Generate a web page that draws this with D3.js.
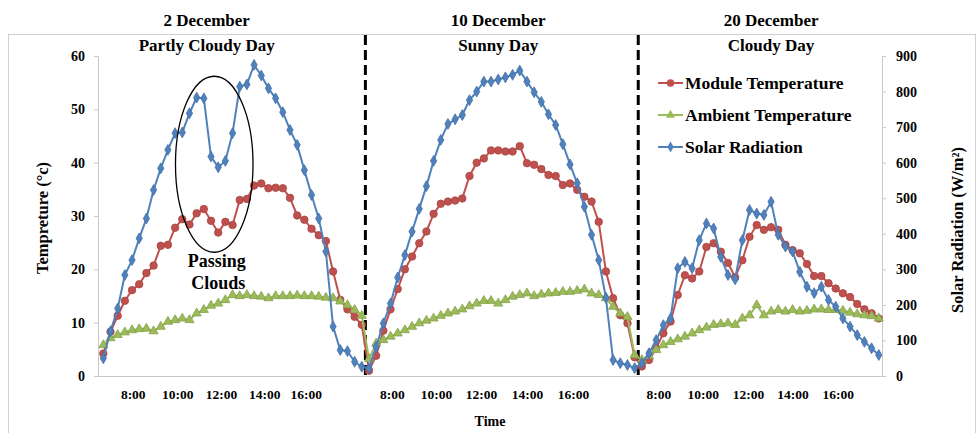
<!DOCTYPE html>
<html>
<head>
<meta charset="utf-8">
<script src="https://cdn.jsdelivr.net/npm/d3@7"></script>
<style>
  body { margin: 0; background: #fff; }
  text { font-family: "Liberation Serif", "Times New Roman", serif; font-weight: bold; fill: #000; }
</style>
</head>
<body>
<script>
/*** Data ***/
const dayNames = ['2 December', '10 December', '20 December']
const dayTypes = ['Partly Cloudy Day', 'Sunny Day', 'Cloudy Day']
const timeLabels = ['8:00', '10:00', '12:00', '14:00', '16:00']
// position of the time labels, counted in samples from the start of each day
const labelPos = [
  [4.1, 10.3, 16.4, 22.4, 28.2],
  [3.2, 9.35, 15.6, 22, 28.4],
  [2.3, 8.5, 14.8, 21, 27.3]
]
const seriesNames = ['Module Temperature', 'Ambient Temperature', 'Solar Radiation']

// module temperature (°C)
const module1 = [4.2, 8.3, 11.3, 14.1, 16.1, 17.2, 19.3, 20.7, 24.4, 24.6, 27.8, 29.4, 28.4, 30.5, 31.3, 29.1, 26.9, 28.9, 28.3,
  33.0, 33.2, 35.7, 36.1, 35.2, 35.3, 35.2, 33.4, 30.1, 29.3, 27.6, 26.4, 25.3, 19.6, 14.3, 12.5, 11.1, 9.6]
const module2 = [1.0, 3.8, 8.5, 12.5, 16.3, 20.0, 22.4, 24.9, 27.1, 30.4, 32.3, 32.7, 32.9, 33.3, 37.5, 40.0, 40.8, 42.3, 42.3,
  42.1, 42.1, 43.1, 39.9, 39.6, 38.8, 37.7, 37.5, 35.8, 36.1, 34.9, 33.6, 32.7, 28.9, 19.6, 14.6, 11.4, 9.9, 3.5]
const module3 = [1.8, 3.0, 5.2, 8.0, 10.2, 15.2, 18.9, 18.3, 19.6, 24.2, 24.9, 23.3, 21.2, 18.5, 21.7, 26.1, 28.3, 27.4,
  27.9, 27.4, 24.6, 23.6, 23.0, 21.0, 18.75, 18.75, 17.4, 16.4, 15.5, 14.8, 13.5, 12.5, 11.75, 10.8]

// ambient temperature (°C)
const ambient1 = [5.8, 7.1, 7.7, 8.2, 8.6, 8.8, 8.9, 8.4, 9.25, 10.2, 10.5, 10.8, 10.5, 11.75, 12.4, 13.2, 13.6, 14.25, 15.2,
  15.0, 15.2, 15.0, 14.9, 14.6, 15.0, 15.0, 15.0, 15.1, 15.0, 15.0, 14.9, 14.7, 14.6, 14.0, 13.3, 12.4, 11.3]
const ambient2 = [3.2, 6.1, 6.75, 7.4, 8.0, 8.6, 9.25, 9.9, 10.4, 10.8, 11.3, 11.75, 12.1, 12.5, 13.1, 13.6, 14.1, 14.1, 13.6,
  14.25, 14.9, 15.2, 15.5, 15.0, 15.3, 15.5, 15.6, 15.8, 15.8, 16.0, 16.25, 15.5, 15.2, 14.6, 13.0, 11.75, 11.1, 3.9]
const ambient3 = [3.0, 3.75, 4.9, 5.8, 6.4, 6.9, 7.4, 8.0, 8.6, 9.1, 9.6, 9.75, 9.9, 9.6, 10.8, 11.4, 13.3, 11.4,
  12.1, 12.4, 12.1, 12.4, 12.1, 12.25, 12.5, 12.5, 12.4, 12.4, 12.25, 11.9, 11.6, 11.4, 11.25, 10.8]

// solar radiation (W/m2)
const solar1 = [50, 126, 190, 284, 326, 387, 443, 523, 584, 636, 683, 685, 739, 783, 781, 617, 587, 605, 683,
  814, 820, 875, 845, 809, 781, 742, 692, 650, 579, 509, 443, 350, 139, 73, 70, 40, 26]
const solar2 = [22, 82, 148, 204, 277, 340, 406, 470, 534, 605, 664, 709, 722, 734, 776, 800, 828, 828, 834,
  840, 847, 859, 828, 798, 771, 736, 706, 652, 595, 542, 476, 397, 326, 220, 45, 36, 31, 22]
const solar3 = [36, 64, 101, 143, 162, 303, 321, 303, 382, 429, 415, 335, 284, 272, 382, 467, 457, 453,
  490, 397, 364, 350, 293, 251, 233, 251, 214, 195, 162, 139, 115, 96, 78, 59]

const tempTicks = [0, 10, 20, 30, 40, 50, 60]
const solarTicks = [0, 100, 200, 300, 400, 500, 600, 700, 800, 900]

/*** Chart ***/
function renderChart(){
  const w = 979, h = 433
  const left = 98, right = 882, top = 56, bottom = 376

  const moduleT = module1.concat(module2, module3)
  const ambientT = ambient1.concat(ambient2, ambient3)
  const solar = solar1.concat(solar2, solar3)
  const dayLen = [module1.length, module2.length, module3.length]
  const dayStart = [0, dayLen[0], dayLen[0] + dayLen[1]]
  const n = moduleT.length

  const svg = d3.select('body').append('svg')
    .attr('width', w).attr('height', h)

  // outer chart frame
  svg.append('rect')
    .attr('x', 8.5).attr('y', 34.5).attr('width', 967).attr('height', 420)
    .attr('fill', 'none').attr('stroke', '#d0d0d0')

  // Scales
  const xScale = d3.scaleLinear().domain([-0.74, n - 1 + 0.45]).range([left, right])
  const yTemp = d3.scaleLinear().domain([0, 60]).range([bottom, top])
  const ySolar = d3.scaleLinear().domain([0, 900]).range([bottom, top])

  // Axes
  const axisColor = '#c8c8c8'
  const gl = svg.append('g').attr('transform', `translate(${left},0)`)
    .call(d3.axisLeft(yTemp).tickValues(tempTicks).tickSize(4).tickPadding(9))
  const gr = svg.append('g').attr('transform', `translate(${right},0)`)
    .call(d3.axisRight(ySolar).tickValues(solarTicks).tickSize(4).tickPadding(10))

  const tickPos = []
  labelPos.forEach((arr, d) => arr.forEach(p => tickPos.push(dayStart[d] + p)))
  const gb = svg.append('g').attr('transform', `translate(0,${bottom})`)
    .call(d3.axisBottom(xScale).tickValues(tickPos)
      .tickFormat((d, i) => timeLabels[i % timeLabels.length]).tickSize(0).tickPadding(13))

  ;[gl, gr, gb].forEach(g => {
    g.selectAll('path.domain').attr('stroke', axisColor)
    g.selectAll('.tick line').attr('stroke', axisColor)
    g.selectAll('text').style('font-size', '14px')
  })
  gb.selectAll('text').style('font-size', '13.5px')

  // axis titles
  svg.append('text').attr('transform', `translate(48,218) rotate(-90)`)
    .attr('text-anchor', 'middle').style('font-size', '16.5px').text('Tempreture (°c)')
  svg.append('text').attr('transform', `translate(963,230) rotate(-90)`)
    .attr('text-anchor', 'middle').style('font-size', '16.5px').text('Solar Radiation (W/m²)')
  svg.append('text').attr('x', 490).attr('y', 426).attr('text-anchor', 'middle')
    .style('font-size', '14px').text('Time')

  // day separators and titles
  const titleAt = [14.4, 55, 93]
  for (let d = 0; d < 3; d++){
    const x0 = xScale(dayStart[d] - 0.5)
    const cx = xScale(titleAt[d])
    svg.append('text').attr('x', cx).attr('y', 26).attr('text-anchor', 'middle')
      .style('font-size', '17px').text(dayNames[d])
    svg.append('text').attr('x', cx).attr('y', 51).attr('text-anchor', 'middle')
      .style('font-size', '17px').text(dayTypes[d])
    if (d > 0){
      svg.append('line').attr('x1', x0).attr('x2', x0).attr('y1', 35).attr('y2', bottom)
        .attr('stroke', '#000').attr('stroke-width', 3).attr('stroke-dasharray', '10,5')
    }
  }

  // Series
  const series = [
    { name: seriesNames[0], values: moduleT, y: yTemp, color: '#C0504D', symbol: d3.symbolCircle, size: 44 },
    { name: seriesNames[1], values: ambientT, y: yTemp, color: '#9BBB59', symbol: d3.symbolTriangle, size: 36 },
    { name: seriesNames[2], values: solar, y: ySolar, color: '#4F81BD', symbol: d3.symbolDiamond, size: 34 }
  ]

  series.forEach(s => {
    const line = d3.line().x((d, i) => xScale(i)).y(d => s.y(d))
    svg.append('path').datum(s.values)
      .attr('d', line).attr('fill', 'none')
      .attr('stroke', s.color).attr('stroke-width', 2)
    svg.selectAll(null).data(s.values).enter()
      .append('path')
      .attr('d', d3.symbol().type(s.symbol).size(s.size))
      .attr('transform', (d, i) => `translate(${xScale(i)},${s.y(d)})`)
      .attr('fill', s.color).attr('stroke', d3.color(s.color).darker(0.4)).attr('stroke-width', 0.8)
  })

  // passing clouds annotation
  svg.append('ellipse')
    .attr('cx', xScale(15.45)).attr('cy', yTemp(39.7))
    .attr('rx', xScale(5.4) - xScale(0)).attr('ry', yTemp(0) - yTemp(16.5))
    .attr('fill', 'none').attr('stroke', '#000').attr('stroke-width', 1.3)
  svg.append('text').attr('x', xScale(15.8)).attr('y', yTemp(20.5)).attr('text-anchor', 'middle')
    .style('font-size', '18px').text('Passing')
  svg.append('text').attr('x', xScale(16)).attr('y', yTemp(16.3)).attr('text-anchor', 'middle')
    .style('font-size', '18px').text('Clouds')

  // Legend
  const lg = svg.append('g').attr('transform', 'translate(658,83)')
  series.forEach((s, i) => {
    const row = lg.append('g').attr('transform', `translate(0,${i * 32})`)
    row.append('line').attr('x1', 0).attr('x2', 25).attr('stroke', s.color).attr('stroke-width', 2)
    row.append('path').attr('d', d3.symbol().type(s.symbol).size(s.size))
      .attr('transform', 'translate(12.5,0)').attr('fill', s.color)
    row.append('text').attr('x', 27).attr('y', 6).style('font-size', '17.5px').text(s.name)
  })
}

renderChart()
</script>
</body>
</html>
